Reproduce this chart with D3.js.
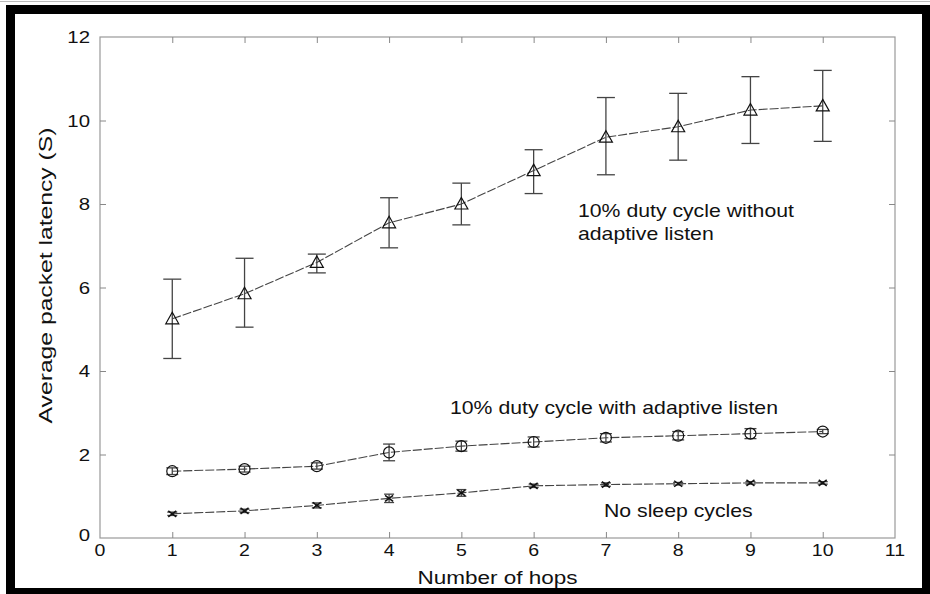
<!DOCTYPE html>
<html><head><meta charset="utf-8">
<script src="https://cdn.jsdelivr.net/npm/d3@7"></script>
<style>body{margin:0;background:#fff}svg{display:block}text{font-family:"Liberation Sans",Arial,sans-serif;fill:#111}</style>
</head><body><svg id="c" width="930" height="594"></svg>
<script>
const hops = [1,2,3,4,5,6,7,8,9,10];
const noAdaptMean = [5.25,5.85,6.6,7.55,8.0,8.8,9.6,9.85,10.25,10.35];
const noAdaptLow  = [4.3,5.05,6.35,6.95,7.5,8.25,8.7,9.05,9.45,9.5];
const noAdaptHigh = [6.2,6.7,6.8,8.15,8.5,9.3,10.55,10.65,11.05,11.2];
const adaptMean = [1.6,1.65,1.72,2.05,2.2,2.3,2.4,2.45,2.5,2.55];
const adaptLow  = [1.52,1.58,1.65,1.85,2.08,2.18,2.3,2.35,2.38,2.5];
const adaptHigh = [1.68,1.72,1.8,2.25,2.32,2.42,2.5,2.55,2.62,2.6];
const noSleepMean = [0.58,0.65,0.78,0.95,1.08,1.25,1.28,1.3,1.32,1.32];
const noSleepLow  = [0.54,0.61,0.72,0.85,1.0,1.21,1.24,1.27,1.29,1.29];
const noSleepHigh = [0.62,0.69,0.84,1.05,1.16,1.29,1.32,1.33,1.35,1.35];
const xTicks = [0,1,2,3,4,5,6,7,8,9,10,11];
const yTicks = [0,2,4,6,8,10,12];
const labels = {
  noAdapt: ["10% duty cycle without","adaptive listen"],
  adapt: "10% duty cycle with adaptive listen",
  noSleep: "No sleep cycles",
  xTitle: "Number of hops",
  yTitle: "Average packet latency (S)"
};

const svg = d3.select("#c");
// black frame
svg.append("rect").attr("x",6).attr("y",5).attr("width",924).attr("height",9).attr("fill","#000");
svg.append("rect").attr("x",6).attr("y",5).attr("width",9).attr("height",589).attr("fill","#000");
svg.append("rect").attr("x",922).attr("y",5).attr("width",8).attr("height",589).attr("fill","#000");
svg.append("rect").attr("x",6).attr("y",588).attr("width",924).attr("height",6).attr("fill","#000");
svg.append("line").attr("x1",0).attr("x2",930).attr("y1",1.5).attr("y2",1.5).attr("stroke","#bbb");

const L=100,R=895,T=37,B=538;
const x = d3.scaleLinear().domain([0,11]).range([L,R]);
const y = d3.scaleLinear().domain([0,12]).range([B,T]);

// stretched text helper
function txt(px,py,str,size,sx,anchor,rot){
  return svg.append("text")
    .attr("transform",`translate(${px},${py})${rot?` rotate(${rot})`:""} scale(${sx},1)`)
    .attr("font-size",size).attr("text-anchor",anchor||"start").text(str);
}

// box
svg.append("rect").attr("x",L).attr("y",T).attr("width",R-L).attr("height",B-T)
  .attr("fill","none").attr("stroke","#999").attr("stroke-width",1.2);

// axes with inward ticks
const gx = svg.append("g").attr("transform",`translate(0,${B})`)
  .call(d3.axisBottom(x).tickValues(xTicks.slice(1,-1)).tickSize(-6).tickFormat(""));
const gxt = svg.append("g").attr("transform",`translate(0,${T})`)
  .call(d3.axisTop(x).tickValues(xTicks.slice(1,-1)).tickSize(-6).tickFormat(""));
const gy = svg.append("g").attr("transform",`translate(${L},0)`)
  .call(d3.axisLeft(y).tickValues(yTicks.slice(1,-1)).tickSize(-6).tickFormat(""));
const gyr = svg.append("g").attr("transform",`translate(${R},0)`)
  .call(d3.axisRight(y).tickValues(yTicks.slice(1,-1)).tickSize(-6).tickFormat(""));
[gx,gxt,gy,gyr].forEach(g=>{g.select(".domain").remove();g.selectAll("line").attr("stroke","#888");});

// tick labels
xTicks.forEach(d=>txt(x(d),B+18,d,17,1.15,"middle"));
yTicks.forEach(d=>txt(L-10,y(d)+6-(d===0?3:0),d,17,1.2,"end"));

txt((L+R)/2,584,labels.xTitle,18,1.25,"middle");
txt(52,(T+B)/2-12,labels.yTitle,19,1.3,"middle",-90);

function series(mean,low,high,marker,cap){
  const pts = hops.map((h,i)=>({h,m:mean[i],lo:low[i],hi:high[i]}));
  const g = svg.append("g");
  g.append("path").datum(pts).attr("fill","none").attr("stroke","#444").attr("stroke-width",1.1)
    .attr("stroke-dasharray","9,2")
    .attr("d",d3.line().x(d=>x(d.h)).y(d=>y(d.m)));
  const eb = g.selectAll(".eb").data(pts).join("g").attr("stroke","#444").attr("stroke-width",1.3);
  eb.append("line").attr("x1",d=>x(d.h)).attr("x2",d=>x(d.h)).attr("y1",d=>y(d.lo)).attr("y2",d=>y(d.hi));
  eb.append("line").attr("x1",d=>x(d.h)-cap).attr("x2",d=>x(d.h)+cap).attr("y1",d=>y(d.lo)).attr("y2",d=>y(d.lo));
  eb.append("line").attr("x1",d=>x(d.h)-cap).attr("x2",d=>x(d.h)+cap).attr("y1",d=>y(d.hi)).attr("y2",d=>y(d.hi));
  const mk = g.selectAll(".mk").data(pts).join("g").attr("transform",d=>`translate(${x(d.h)},${y(d.m)})`);
  if(marker==="tri"){
    mk.append("path").attr("d","M0,-6.5 L6.5,5 L-6.5,5 Z").attr("fill","none").attr("stroke","#111").attr("stroke-width",1.2);
  } else if(marker==="circ"){
    mk.append("circle").attr("r",5.5).attr("fill","none").attr("stroke","#111").attr("stroke-width",1.2);
  } else {
    mk.append("path").attr("d","M-4,-3 L4,3 M-4,3 L4,-3").attr("stroke","#111").attr("stroke-width",1.5);
  }
}
series(noAdaptMean,noAdaptLow,noAdaptHigh,"tri",9);
series(adaptMean,adaptLow,adaptHigh,"circ",6);
series(noSleepMean,noSleepLow,noSleepHigh,"x",5);

txt(578,217,labels.noAdapt[0],18,1.18);
txt(578,240,labels.noAdapt[1],18,1.18);
txt(450,414,labels.adapt,18,1.18);
txt(604,517,labels.noSleep,18,1.18);
</script></body></html>
